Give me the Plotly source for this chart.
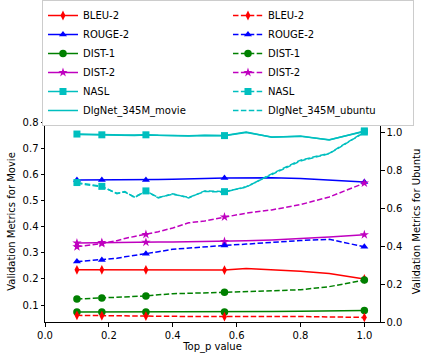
import plotly.graph_objects as go

# top_p values where the curves are sampled, and the ones that carry markers
top_p = [0.1, 0.178, 0.225, 0.25, 0.28, 0.316, 0.355, 0.4, 0.45, 0.5,
         0.562, 0.63, 0.71, 0.8, 0.89, 1.0]
mark_idx = [0, 1, 5, 10, 15]

# movie dataset (left axis)
bleu_movie = [0.235, 0.235, 0.235, 0.235, 0.235, 0.235, 0.234, 0.234, 0.233, 0.233,
              0.234, 0.240, 0.236, 0.230, 0.221, 0.200]
rouge_movie = [0.580, 0.580, 0.580, 0.580, 0.580, 0.580, 0.582, 0.583, 0.583, 0.585,
               0.587, 0.588, 0.588, 0.585, 0.578, 0.572]
dist1_movie = [0.073, 0.073, 0.073, 0.073, 0.073, 0.073, 0.073, 0.073, 0.073, 0.073,
               0.073, 0.074, 0.075, 0.076, 0.077, 0.079]
dist2_movie = [0.338, 0.340, 0.340, 0.341, 0.341, 0.341, 0.342, 0.342, 0.343, 0.343,
               0.344, 0.347, 0.350, 0.355, 0.361, 0.370]
nasl_movie = [0.756, 0.753, 0.753, 0.752, 0.752, 0.753, 0.751, 0.750, 0.749, 0.751,
              0.750, 0.764, 0.744, 0.748, 0.733, 0.768]
dlgnet_movie = [0.754, 0.752, 0.752, 0.751, 0.750, 0.752, 0.750, 0.749, 0.748, 0.750,
                0.749, 0.762, 0.745, 0.747, 0.734, 0.766]

# ubuntu dataset (right axis)
bleu_ubuntu = [0.035, 0.033, 0.032, 0.032, 0.031, 0.031, 0.030, 0.030, 0.029, 0.029,
               0.028, 0.028, 0.029, 0.029, 0.027, 0.024]
rouge_ubuntu = [0.318, 0.327, 0.335, 0.343, 0.350, 0.359, 0.370, 0.383, 0.390, 0.397,
                0.403, 0.410, 0.420, 0.429, 0.435, 0.396]
dist1_ubuntu = [0.121, 0.126, 0.130, 0.132, 0.134, 0.137, 0.143, 0.149, 0.151, 0.153,
                0.157, 0.160, 0.164, 0.170, 0.186, 0.221]
dist2_ubuntu = [0.396, 0.413, 0.428, 0.440, 0.450, 0.461, 0.475, 0.495, 0.522, 0.532,
                0.553, 0.573, 0.590, 0.618, 0.658, 0.731]
nasl_ubuntu = [0.734, 0.714, 0.675, 0.687, 0.655, 0.690, 0.653, 0.675, 0.653, 0.690,
               0.686, 0.710, 0.780, 0.852, 0.888, 1.000]
dlgnet_ubuntu = [0.730, 0.712, 0.678, 0.684, 0.658, 0.687, 0.656, 0.672, 0.656, 0.687,
                 0.684, 0.712, 0.776, 0.848, 0.886, 0.998]

FONT = "DejaVu Sans"
DASH = "5.5px,2.4px"

series = [
    # name, movie values, ubuntu values, colour, symbol, marker size
    ("BLEU-2", bleu_movie, bleu_ubuntu, "#ff0000", "diamond-tall", 7),
    ("ROUGE-2", rouge_movie, rouge_ubuntu, "#0000ff", "triangle-up", 7),
    ("DIST-1", dist1_movie, dist1_ubuntu, "#008000", "circle", 7.5),
    ("DIST-2", dist2_movie, dist2_ubuntu, "#bf00bf", "star", 7),
    ("NASL", nasl_movie, nasl_ubuntu, "#00bfbf", "square", 7),
    ("DlgNet_345M", dlgnet_movie, dlgnet_ubuntu, "#00bfbf", None, 0),
]

fig = go.Figure()

for name, mv, ub, col, sym, ms in series:
    for vals, axis, dash in [(mv, "y", "solid"), (ub, "y2", DASH)]:
        fig.add_trace(go.Scatter(x=top_p, y=vals, yaxis=axis, mode="lines",
                                 line=dict(color=col, width=1.5, dash=dash),
                                 showlegend=False, hoverinfo="skip"))
        if sym:
            fig.add_trace(go.Scatter(x=[top_p[i] for i in mark_idx],
                                     y=[vals[i] for i in mark_idx], yaxis=axis,
                                     mode="markers",
                                     marker=dict(color=col, symbol=sym, size=ms),
                                     showlegend=False, hoverinfo="skip"))

# legend entries, row-wise: movie (solid) left column, ubuntu (dashed) right column
for name, mv, ub, col, sym, ms in series:
    for suffix, dash in [("_movie", "solid"), ("_ubuntu", DASH)]:
        label = name + suffix if sym is None else name
        fig.add_trace(go.Scatter(x=[None], y=[None],
                                 mode="lines" if sym is None else "lines+markers",
                                 line=dict(color=col, width=1.5, dash=dash),
                                 marker=dict(color=col, symbol=sym or "circle", size=ms),
                                 name=label, showlegend=True))

axis_common = dict(showline=True, linecolor="black", linewidth=1, ticks="outside",
                   ticklen=3.5, tickcolor="black", showgrid=False, zeroline=False,
                   tickfont=dict(family=FONT, size=10, color="black"),
                   tickformat=".1f")

TOP = 121
fig.update_layout(
    width=422, height=361,
    margin=dict(l=45, r=42, t=TOP, b=39, autoexpand=False),
    paper_bgcolor="white", plot_bgcolor="white",
    font=dict(family=FONT, size=10, color="black"),
    xaxis=dict(range=[0, 1.049], tickvals=[0, 0.2, 0.4, 0.6, 0.8, 1.0], mirror=True,
               title=dict(text="Top_p value", standoff=1,
                          font=dict(family=FONT, size=10)), **axis_common),
    yaxis=dict(range=[0.035, 0.806], tickvals=[0.1, 0.2, 0.3, 0.4, 0.5, 0.6, 0.7, 0.8],
               title=dict(text="Validation Metrics for Movie", standoff=5,
                          font=dict(family=FONT, size=10)), **axis_common),
    yaxis2=dict(range=[0, 1.058], tickvals=[0, 0.2, 0.4, 0.6, 0.8, 1.0],
                overlaying="y", side="right",
                title=dict(text="Validation Metrics for Ubuntu", standoff=12,
                           font=dict(family=FONT, size=10)), **axis_common),
    legend=dict(orientation="h", x=-0.009, xanchor="left",
                y=(361 - 39) / (361 - 39 - TOP), yanchor="top",
                entrywidth=140, bordercolor="#cccccc", borderwidth=1,
                bgcolor="white", font=dict(family=FONT, size=10, color="black"),
                traceorder="normal"),
)

fig.write_html("out.html", config={"displayModeBar": False},
               post_script="document.body.style.margin='0px';")
